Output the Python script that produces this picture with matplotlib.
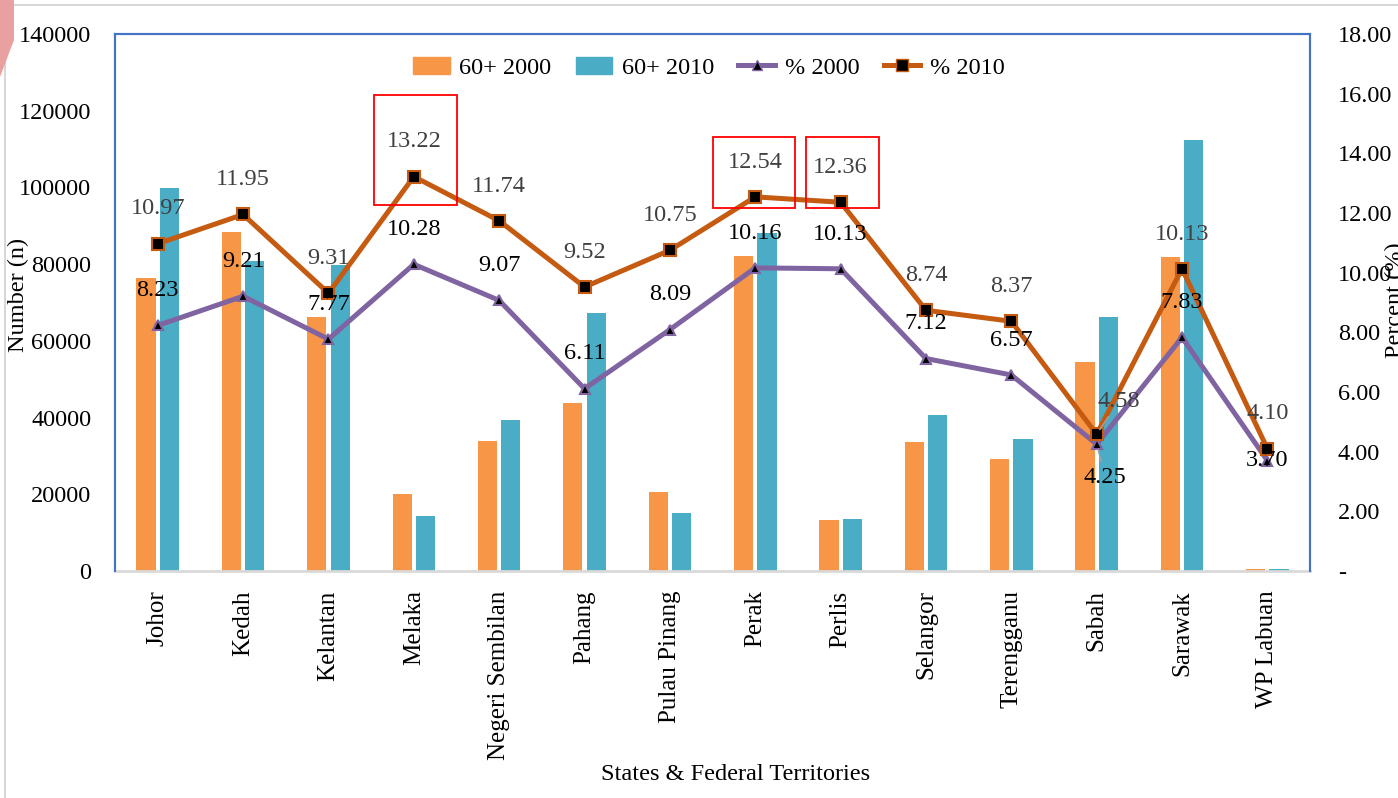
import numpy as np
import matplotlib
matplotlib.use("Agg")
import matplotlib.pyplot as plt
from matplotlib.patches import Rectangle, Polygon
from matplotlib.lines import Line2D
from matplotlib.patches import Patch

plt.rcParams['font.family'] = ['Liberation Serif', 'DejaVu Serif']

# datos
estados = ["Johor", "Kedah", "Kelantan", "Melaka", "Negeri Sembilan", "Pahang",
           "Pulau Pinang", "Perak", "Perlis", "Selangor", "Terengganu",
           "Sabah", "Sarawak", "WP Labuan"]
pob_2000 = [76400, 88400, 66200, 20100, 33900, 43800, 20600,
            82100, 13300, 33600, 29200, 54500, 81900, 450]
pob_2010 = [99800, 80800, 79800, 14300, 39400, 67300, 15100,
            88100, 13600, 40700, 34400, 66200, 112400, 500]
pct_2000 = [8.23, 9.21, 7.77, 10.28, 9.07, 6.11, 8.09,
            10.16, 10.13, 7.12, 6.57, 4.25, 7.83, 3.70]
pct_2010 = [10.97, 11.95, 9.31, 13.22, 11.74, 9.52, 10.75,
            12.54, 12.36, 8.74, 8.37, 4.58, 10.13, 4.10]

# etiquetas que se mueven (puntos)
desp_2000 = {"Sabah": (6, -24), "WP Labuan": (0, 0)}
desp_2010 = {"Sabah": (16, 24)}
# cajas rojas: (estado, dx0, dx1, dy0, dy1) relativo al punto de 2010
cajas = [("Melaka", -0.47, 0.51, -0.95, 2.74),
         ("Perak", -0.50, 0.46, -0.37, 2.01),
         ("Perlis", -0.40, 0.45, -0.19, 2.19)]

c_nar = '#F79646'
c_azul = '#4BACC6'
c_mor = '#8064A2'
c_caf = '#C55A11'

fig = plt.figure(figsize=(13.98, 7.98), dpi=100)
ax = fig.add_axes([0.0823, 0.2845, 0.8548, 0.6729])
x = np.arange(len(estados))

ax.bar(x - 0.137, pob_2000, width=0.225, color=c_nar, zorder=2)
ax.bar(x + 0.137, pob_2010, width=0.225, color=c_azul, zorder=2)
ax.set_xlim(-0.5, len(estados) - 0.5)
ax.set_ylim(0, 140000)
ax.set_yticks(np.arange(0, 140001, 20000))
ax.tick_params(axis='y', length=0, pad=17, labelsize=17.5)
ax.set_xticks(x)
ax.set_xticklabels(estados, rotation=90, fontsize=18)
ax.tick_params(axis='x', length=0, pad=14)

for lado in ['left', 'top', 'right']:
    ax.spines[lado].set_color('#4472C4')
    ax.spines[lado].set_linewidth(1.5)
ax.spines['bottom'].set_color('#D9D9D9')
ax.spines['bottom'].set_linewidth(2)

ax2 = ax.twinx()
ax2.set_ylim(0, 18)
ax2.set_yticks(np.arange(0, 18.1, 2))
ax2.set_yticklabels(['-'] + [f"{v:.2f}" for v in np.arange(2, 18.1, 2)])
ax2.tick_params(axis='y', length=0, pad=20, labelsize=17.5)
for lado in ['left', 'top', 'right']:
    ax2.spines[lado].set_color('#4472C4')
    ax2.spines[lado].set_linewidth(1.5)
ax2.spines['bottom'].set_visible(False)

ax2.plot(x, pct_2000, color=c_mor, lw=3.6, marker='^', ms=7.5,
         mfc='black', mec=c_mor, mew=1.5, zorder=3)
ax2.plot(x, pct_2010, color=c_caf, lw=3.6, marker='s', ms=8.5,
         mfc='black', mec=c_caf, mew=1.5, zorder=4)

# etiquetas de datos
for i, est in enumerate(estados):
    dx, dy = desp_2010.get(est, (0, 25))
    flecha = dict(arrowstyle='-', color='#A6A6A6', lw=1, shrinkA=2, shrinkB=4) if est == "Sabah" else None
    ax2.annotate(f"{pct_2010[i]:.2f}", (i, pct_2010[i]), xytext=(dx, dy),
                 textcoords='offset points', ha='center', va='center',
                 fontsize=17.5, color='#404040', zorder=6, arrowprops=flecha)
    dx, dy = desp_2000.get(est, (0, 25))
    ax2.annotate(f"{pct_2000[i]:.2f}", (i, pct_2000[i]), xytext=(dx, dy),
                 textcoords='offset points', ha='center', va='center',
                 fontsize=17.5, color='black', zorder=6, arrowprops=flecha)

# cajas rojas
for est, dx0, dx1, dy0, dy1 in cajas:
    i = estados.index(est)
    ax2.add_patch(Rectangle((i + dx0, pct_2010[i] + dy0), dx1 - dx0, dy1 - dy0,
                            fill=False, edgecolor='red', lw=1.3, zorder=7))

# leyenda
manijas = [Patch(color=c_nar), Patch(color=c_azul),
           Line2D([], [], color=c_mor, lw=3.6, marker='^', ms=7.5, mfc='black', mec=c_mor),
           Line2D([], [], color=c_caf, lw=3.6, marker='s', ms=8.5, mfc='black', mec=c_caf)]
fig.legend(manijas, ['60+ 2000', '60+ 2010', '% 2000', '% 2010'],
           loc='center', bbox_to_anchor=(0.507, 0.915), ncol=4, frameon=False,
           fontsize=17.5, handlelength=1.5, handletextpad=0.4, columnspacing=1.0)

# titulos de ejes
fig.text(18 / 1398, 1 - 295 / 798, 'Number (n)', rotation=90, ha='center', va='center', fontsize=17.5)
fig.text(0.998, 1 - 300 / 798, 'Percent (%)', rotation=90, ha='center', va='center', fontsize=17.5)
fig.text(736 / 1398, 1 - 775 / 798, 'States & Federal Territories', ha='center', va='center', fontsize=17.5)

# borde de la captura
fig.patches.append(Rectangle((5 / 1398, -0.01), 1.01, 1 - 5 / 798 + 0.01, transform=fig.transFigure,
                             fill=False, edgecolor='#D0D0D0', lw=1.2))
fig.patches.append(Polygon([(0, 1), (14 / 1398, 1), (14 / 1398, 1 - 40 / 798), (0, 1 - 77 / 798)],
                           closed=True, transform=fig.transFigure, facecolor='#E8A0A0', edgecolor='none'))

fig.savefig('out.png', dpi=100)
